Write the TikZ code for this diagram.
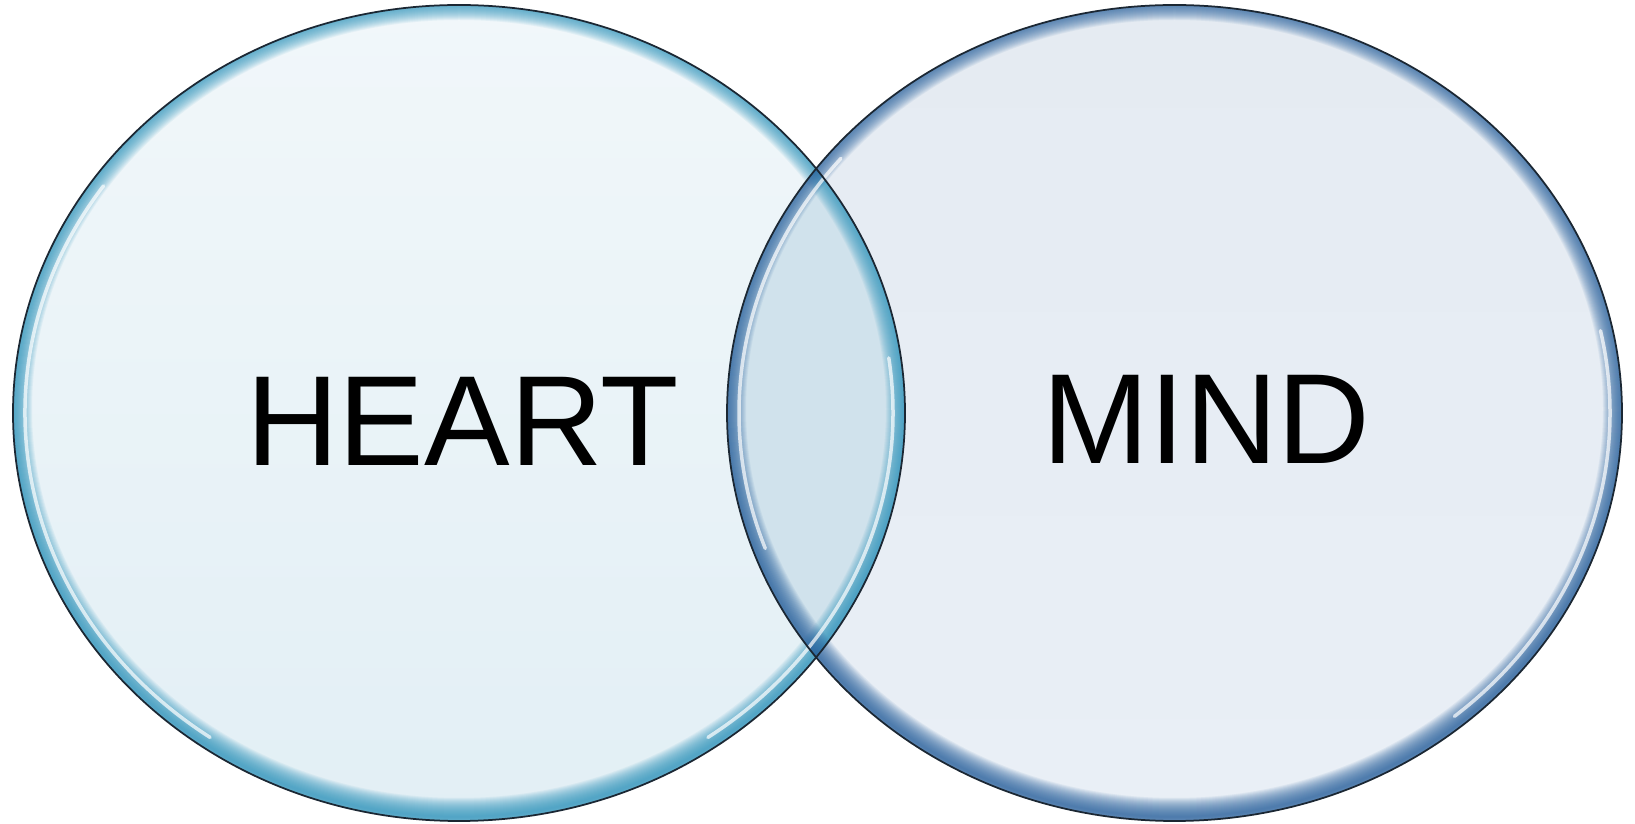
\documentclass[tikz,border=0pt]{standalone}
\usepackage{fontspec}
\setmainfont{Liberation Sans}
\usetikzlibrary{positioning}

\definecolor{heartTop}{HTML}{F1F7FA}
\definecolor{heartBot}{HTML}{E2EFF5}
\definecolor{mindTop}{HTML}{E5EBF2}
\definecolor{mindBot}{HTML}{E9EFF6}
\definecolor{overlapFill}{HTML}{D0E2EC}
\definecolor{heartRim}{HTML}{3398BF}
\definecolor{mindRim}{HTML}{2C64A0}
\definecolor{edgeLine}{HTML}{1B2733}

\begin{document}
\begin{tikzpicture}[
        rim/.style={opacity=0.08, line width=#1},
        glint/.style={white, opacity=0.7, line width=0.07cm, line cap=round},
        outline/.style={edgeLine, line width=0.035cm},
        label/.style={font=\fontsize{73}{80}\selectfont, text=black, inner sep=0pt}
    ]
        \useasboundingbox (0,0) rectangle (32.7,16.48);
        \coordinate (heartc) at (9.18,8.22);
        \coordinate (mindc) at (23.49,8.22);
        % bodies
        \shade[top color=heartTop, bottom color=heartBot] (heartc) ellipse[x radius=8.92, y radius=8.16];
        \shade[top color=mindTop, bottom color=mindBot] (mindc) ellipse[x radius=8.95, y radius=8.16];
        \begin{scope}
            \clip (heartc) ellipse[x radius=8.92, y radius=8.16];
            \fill[overlapFill] (mindc) ellipse[x radius=8.95, y radius=8.16];
        \end{scope}
        % rims
        \begin{scope}
            \clip (heartc) ellipse[x radius=8.92, y radius=8.16];
            \foreach \w in {0.04,0.08,...,0.8}
                \draw[heartRim, rim=\w cm] ([yshift=0.08cm]heartc) ellipse[x radius=8.92, y radius=8.16];
        \end{scope}
        \begin{scope}
            \clip (mindc) ellipse[x radius=8.95, y radius=8.16];
            \foreach \w in {0.04,0.08,...,0.8}
                \draw[mindRim, rim=\w cm] ([yshift=0.08cm]mindc) ellipse[x radius=8.95, y radius=8.16];
        \end{scope}
        % highlights
        \draw[glint] (heartc) ++(145:8.68 and 7.92) arc[start angle=145, end angle=235, x radius=8.68, y radius=7.92];
        \draw[glint] (heartc) ++(-55:8.68 and 7.92) arc[start angle=-55, end angle=8, x radius=8.68, y radius=7.92];
        \draw[glint] (mindc) ++(140:8.71 and 7.92) arc[start angle=140, end angle=200, x radius=8.71, y radius=7.92];
        \draw[glint] (mindc) ++(-50:8.71 and 7.92) arc[start angle=-50, end angle=12, x radius=8.71, y radius=7.92];
        % outlines
        \draw[outline] (heartc) ellipse[x radius=8.92, y radius=8.16];
        \draw[outline] (mindc) ellipse[x radius=8.95, y radius=8.16];
        % labels
        \node[label] (heart) at (9.25,8.06) {HEART};
        \node[label] (mind) at (24.13,8.09) {MIND};
    \end{tikzpicture}
\end{document}
